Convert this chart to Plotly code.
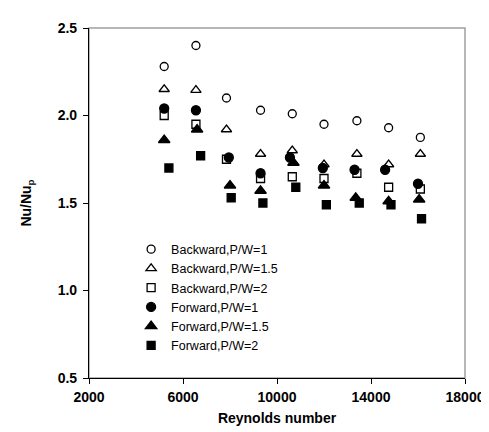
import plotly.graph_objects as go

# Data
re_back = [5200, 6550, 7850, 9300, 10650, 12000, 13400, 14750, 16100]
back_pw1 = [2.28, 2.40, 2.10, 2.03, 2.01, 1.95, 1.97, 1.93, 1.875]
back_pw15 = [2.15, 2.145, 1.92, 1.78, 1.80, 1.72, 1.78, 1.72, 1.78]
back_pw2 = [2.00, 1.95, 1.75, 1.64, 1.65, 1.64, 1.67, 1.59, 1.58]

re_fwd_c = [5200, 6550, 7950, 9300, 10550, 11950, 13300, 14600, 16000]
fwd_pw1 = [2.04, 2.03, 1.76, 1.67, 1.76, 1.70, 1.69, 1.69, 1.61]
re_fwd_t = [5200, 6600, 8000, 9300, 10700, 12000, 13350, 14750, 16050]
fwd_pw15 = [1.86, 1.92, 1.60, 1.57, 1.73, 1.60, 1.53, 1.51, 1.52]
re_fwd_s = [5400, 6750, 8050, 9400, 10800, 12100, 13500, 14850, 16150]
fwd_pw2 = [1.70, 1.77, 1.53, 1.50, 1.59, 1.49, 1.50, 1.49, 1.41]

x_ticks = [2000, 6000, 10000, 14000, 18000]
y_ticks = [0.5, 1.0, 1.5, 2.0, 2.5]

series = [
    ("Backward,P/W=1", re_back, back_pw1, "circle-open", 8),
    ("Backward,P/W=1.5", re_back, back_pw15, "triangle-up-open", 9),
    ("Backward,P/W=2", re_back, back_pw2, "square-open", 8),
    ("Forward,P/W=1", re_fwd_c, fwd_pw1, "circle", 9),
    ("Forward,P/W=1.5", re_fwd_t, fwd_pw15, "triangle-up", 10),
    ("Forward,P/W=2", re_fwd_s, fwd_pw2, "square", 8),
]

fig = go.Figure()
for name, xs, ys, sym, sz in series:
    fig.add_trace(go.Scatter(
        x=xs, y=ys, mode="markers", name=name,
        marker=dict(symbol=sym, size=sz, color="black",
                    line=dict(color="black", width=1.3)),
    ))

font_family = "Liberation Sans, Arial, sans-serif"

fig.update_layout(
    width=489, height=432,
    margin=dict(l=81, r=31, t=15, b=62),
    paper_bgcolor="white", plot_bgcolor="white",
    font=dict(family=font_family, color="black"),
    showlegend=True,
    legend=dict(x=0.112, y=0.41, xanchor="left", yanchor="top",
                bgcolor="rgba(0,0,0,0)", font=dict(size=12.5, family=font_family),
                tracegroupgap=0, itemwidth=30),
    shapes=[dict(type="rect", xref="paper", yref="paper", x0=0, x1=1, y0=0, y1=1,
                 line=dict(color="#a0a0a0", width=1.5), layer="below")],
)

fig.update_xaxes(
    range=[2000, 18000], tickvals=x_ticks, ticktext=[str(v) for v in x_ticks],
    showgrid=False, zeroline=False, showline=True, linecolor="black", linewidth=1.2,
    ticks="outside", ticklen=5, tickcolor="black",
    tickfont=dict(size=14, family=font_family, weight="bold"),
    ticklabelstandoff=1,
    title=dict(text="Reynolds number", font=dict(size=14, family=font_family, weight="bold"),
               standoff=9),
)
fig.update_yaxes(
    range=[0.5, 2.5], tickvals=y_ticks, ticktext=[f"{v:.1f}" for v in y_ticks],
    showgrid=False, zeroline=False, showline=True, linecolor="black", linewidth=1.2,
    ticks="outside", ticklen=5, tickcolor="black",
    tickfont=dict(size=14, family=font_family, weight="bold"),
    ticklabelstandoff=3,
    title=dict(text="Nu/Nu<sub>p</sub>", font=dict(size=14, family=font_family, weight="bold"),
               standoff=22),
)

fig.write_html("out.html")
